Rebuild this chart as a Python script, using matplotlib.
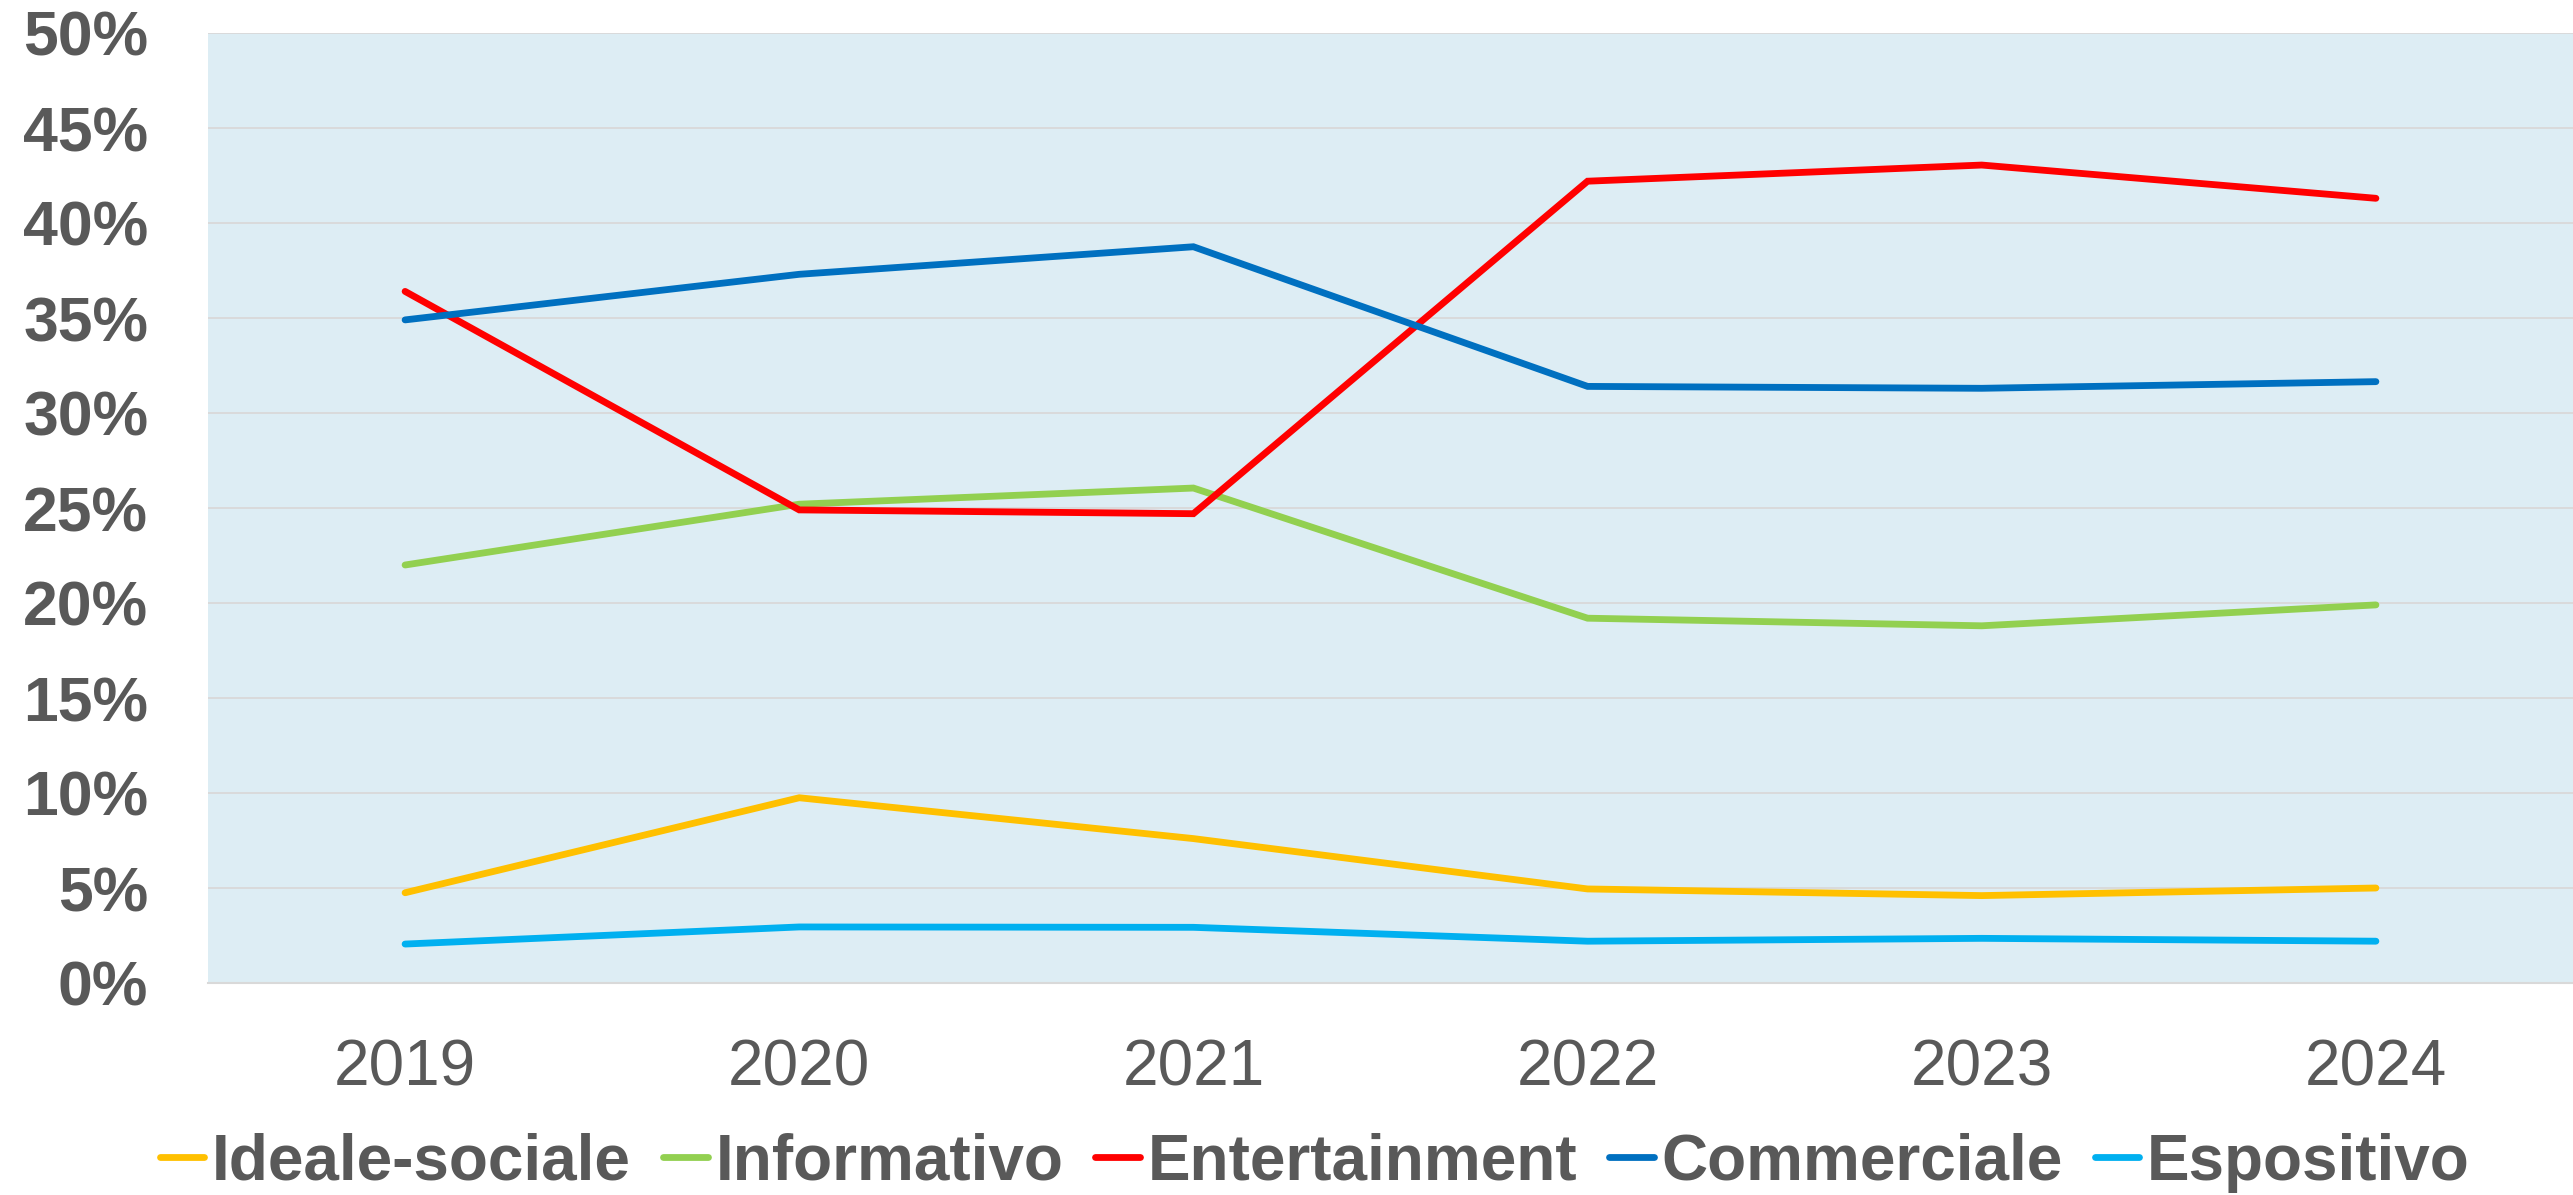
import numpy as np
import matplotlib.pyplot as plt
from matplotlib.ticker import FuncFormatter

years = ['2019', '2020', '2021', '2022', '2023', '2024']
series_names = ['Ideale-sociale', 'Informativo', 'Entertainment', 'Commerciale', 'Espositivo']
ideale_sociale = [4.75, 9.75, 7.6, 4.95, 4.6, 5.0]
informativo = [22.0, 25.2, 26.05, 19.2, 18.8, 19.9]
entertainment = [36.4, 24.9, 24.7, 42.2, 43.05, 41.3]
commerciale = [34.9, 37.3, 38.75, 31.4, 31.3, 31.65]
espositivo = [2.05, 2.95, 2.93, 2.2, 2.35, 2.2]
colors = ['#FFC000', '#92D050', '#FF0000', '#0070C0', '#00B0F0']

plt.rcParams['font.family'] = ['Liberation Sans', 'DejaVu Sans']
text_color = '#595959'

fig = plt.figure(figsize=(25.73, 11.95), dpi=100)
ax = fig.add_axes([208 / 2573, 1 - 983 / 1195, 1 - 208 / 2573, (983 - 33) / 1195])
ax.set_facecolor('#DDEDF4')

x = np.arange(len(years))
all_series = [ideale_sociale, informativo, entertainment, commerciale, espositivo]
for name, vals, c in zip(series_names, all_series, colors):
    ax.plot(x, vals, color=c, lw=4.9, label=name,
            solid_capstyle='round', solid_joinstyle='miter')

ax.set_xlim(-0.5, len(years) - 0.5)
ax.set_ylim(0, 50)
ax.set_yticks(np.arange(0, 51, 5))
ax.yaxis.set_major_formatter(FuncFormatter(lambda v, p: f'{v:.0f}%'))
ax.set_xticks(x)
ax.set_xticklabels(years)

ax.grid(axis='y', color='#D9D9D9', lw=1.3)
ax.set_axisbelow(True)
for s in ['top', 'right', 'left']:
    ax.spines[s].set_visible(False)
ax.spines['bottom'].set_color('#D9D9D9')
ax.spines['bottom'].set_linewidth(1.5)

ax.tick_params(axis='y', length=0, pad=43, labelsize=45, labelcolor=text_color)
ax.tick_params(axis='x', length=0, pad=40, labelsize=46, labelcolor=text_color)
for t in ax.get_yticklabels():
    t.set_fontweight('bold')

fig.legend(loc='center', bbox_to_anchor=(0.511, 0.027), ncol=5, frameon=False,
           prop={'size': 46, 'weight': 'bold'}, labelcolor=text_color,
           handlelength=0.7, handletextpad=0.12, columnspacing=0.5,
           borderpad=0, borderaxespad=0)

fig.savefig('out.png', dpi=100)
